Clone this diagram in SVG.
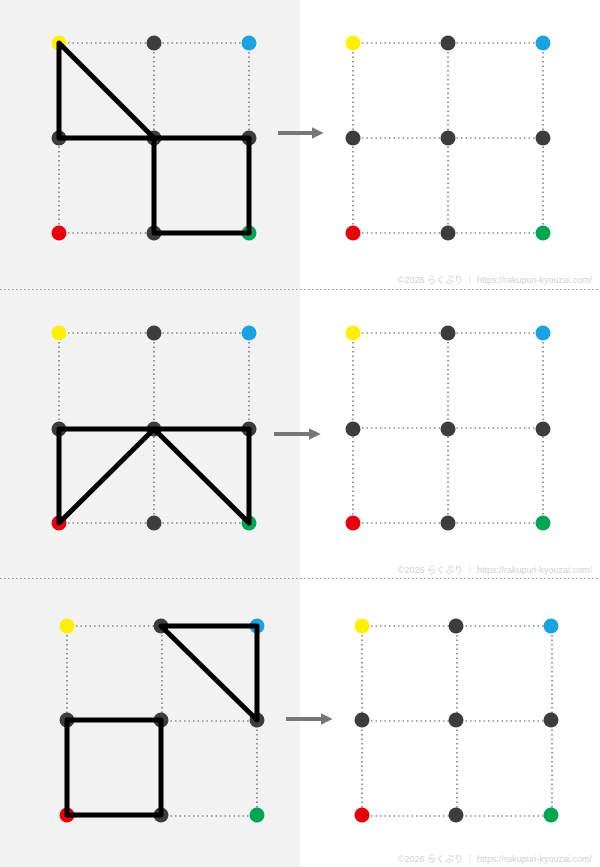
<svg xmlns="http://www.w3.org/2000/svg" width="600" height="867" viewBox="0 0 600 867">
<defs>
<style>
.grid{stroke:#555;stroke-width:1.2;stroke-dasharray:1.5 3;fill:none}
.sep{stroke:#999;stroke-width:1;stroke-dasharray:1.5 2.5}
.ln{stroke:#000;stroke-width:5;fill:none;stroke-linecap:round;stroke-linejoin:round}
.d{fill:#3d3d3d}.y{fill:#ffef00}.b{fill:#1aa3e0}.r{fill:#e8000b}.g{fill:#00a651}
.arr{stroke:#777;stroke-width:4}
.cp{font-family:"Liberation Sans","Noto Sans CJK JP",sans-serif;font-size:9px;fill:#d2d2d2}
</style>
<marker id="ah" viewBox="0 0 10 10" refX="2" refY="5" markerWidth="3" markerHeight="3.5" orient="auto" markerUnits="strokeWidth"><path d="M0,0L10,5L0,10z" fill="#777"/></marker>
<g id="gridA">
<path class="grid" d="M0,0H190M0,95H190M0,190H190M0,0V190M95,0V190M190,0V190"/>
</g>
</defs>
<rect width="600" height="867" fill="#fff"/>
<rect width="300" height="867" fill="#f2f2f2"/>
<line class="sep" x1="0" y1="289.5" x2="600" y2="289.5"/>
<line class="sep" x1="0" y1="578.5" x2="600" y2="578.5"/>

<g id="grids">
<use href="#gridA" x="59" y="43"/>
<use href="#gridA" x="353" y="43"/>
<use href="#gridA" x="59" y="333"/>
<use href="#gridA" x="353" y="333"/>
<use href="#gridA" x="67" y="626"/>
<use href="#gridA" x="362" y="626"/>
</g>

<g id="p1L">
<circle class="y" cx="59" cy="43" r="7.5"/><circle class="d" cx="154" cy="43" r="7.5"/><circle class="b" cx="249" cy="43" r="7.5"/>
<circle class="d" cx="59" cy="138" r="7.5"/><circle class="d" cx="154" cy="138" r="7.5"/><circle class="d" cx="249" cy="138" r="7.5"/>
<circle class="r" cx="59" cy="233" r="7.5"/><circle class="d" cx="154" cy="233" r="7.5"/><circle class="g" cx="249" cy="233" r="7.5"/>
</g>
<g id="p1R">
<circle class="y" cx="353" cy="43" r="7.5"/><circle class="d" cx="448" cy="43" r="7.5"/><circle class="b" cx="543" cy="43" r="7.5"/>
<circle class="d" cx="353" cy="138" r="7.5"/><circle class="d" cx="448" cy="138" r="7.5"/><circle class="d" cx="543" cy="138" r="7.5"/>
<circle class="r" cx="353" cy="233" r="7.5"/><circle class="d" cx="448" cy="233" r="7.5"/><circle class="g" cx="543" cy="233" r="7.5"/>
</g>
<g id="p2L">
<circle class="y" cx="59" cy="333" r="7.5"/><circle class="d" cx="154" cy="333" r="7.5"/><circle class="b" cx="249" cy="333" r="7.5"/>
<circle class="d" cx="59" cy="429" r="7.5"/><circle class="d" cx="154" cy="429" r="7.5"/><circle class="d" cx="249" cy="429" r="7.5"/>
<circle class="r" cx="59" cy="523" r="7.5"/><circle class="d" cx="154" cy="523" r="7.5"/><circle class="g" cx="249" cy="523" r="7.5"/>
</g>
<g id="p2R">
<circle class="y" cx="353" cy="333" r="7.5"/><circle class="d" cx="448" cy="333" r="7.5"/><circle class="b" cx="543" cy="333" r="7.5"/>
<circle class="d" cx="353" cy="429" r="7.5"/><circle class="d" cx="448" cy="429" r="7.5"/><circle class="d" cx="543" cy="429" r="7.5"/>
<circle class="r" cx="353" cy="523" r="7.5"/><circle class="d" cx="448" cy="523" r="7.5"/><circle class="g" cx="543" cy="523" r="7.5"/>
</g>
<g id="p3L">
<circle class="y" cx="67" cy="626" r="7.5"/><circle class="d" cx="161" cy="626" r="7.5"/><circle class="b" cx="257" cy="626" r="7.5"/>
<circle class="d" cx="67" cy="720" r="7.5"/><circle class="d" cx="161" cy="720" r="7.5"/><circle class="d" cx="257" cy="720" r="7.5"/>
<circle class="r" cx="67" cy="815" r="7.5"/><circle class="d" cx="161" cy="815" r="7.5"/><circle class="g" cx="257" cy="815" r="7.5"/>
</g>
<g id="p3R">
<circle class="y" cx="362" cy="626" r="7.5"/><circle class="d" cx="456" cy="626" r="7.5"/><circle class="b" cx="551" cy="626" r="7.5"/>
<circle class="d" cx="362" cy="720" r="7.5"/><circle class="d" cx="456" cy="720" r="7.5"/><circle class="d" cx="551" cy="720" r="7.5"/>
<circle class="r" cx="362" cy="815" r="7.5"/><circle class="d" cx="456" cy="815" r="7.5"/><circle class="g" cx="551" cy="815" r="7.5"/>
</g>

<g id="connectors">
<path class="ln" d="M59,138V43L154,138M59,138H249V233H154V138"/>
<path class="ln" d="M59,429H249V523M59,429V523L154,429L249,523"/>
<path class="ln" d="M161,626H257V720ZM67,720H161V815H67Z"/>
<line class="arr" x1="278" y1="133" x2="314" y2="133" marker-end="url(#ah)"/>
<line class="arr" x1="274" y1="434" x2="311" y2="434" marker-end="url(#ah)"/>
<line class="arr" x1="286" y1="719" x2="323" y2="719" marker-end="url(#ah)"/>
</g>

<g id="copyright">
<text class="cp" x="592" y="283" text-anchor="end">©2026 らくぷり ｜ https://rakupuri-kyouzai.com/</text>
<text class="cp" x="592" y="573" text-anchor="end">©2026 らくぷり ｜ https://rakupuri-kyouzai.com/</text>
<text class="cp" x="592" y="862" text-anchor="end">©2026 らくぷり ｜ https://rakupuri-kyouzai.com/</text>
</g>
</svg>
